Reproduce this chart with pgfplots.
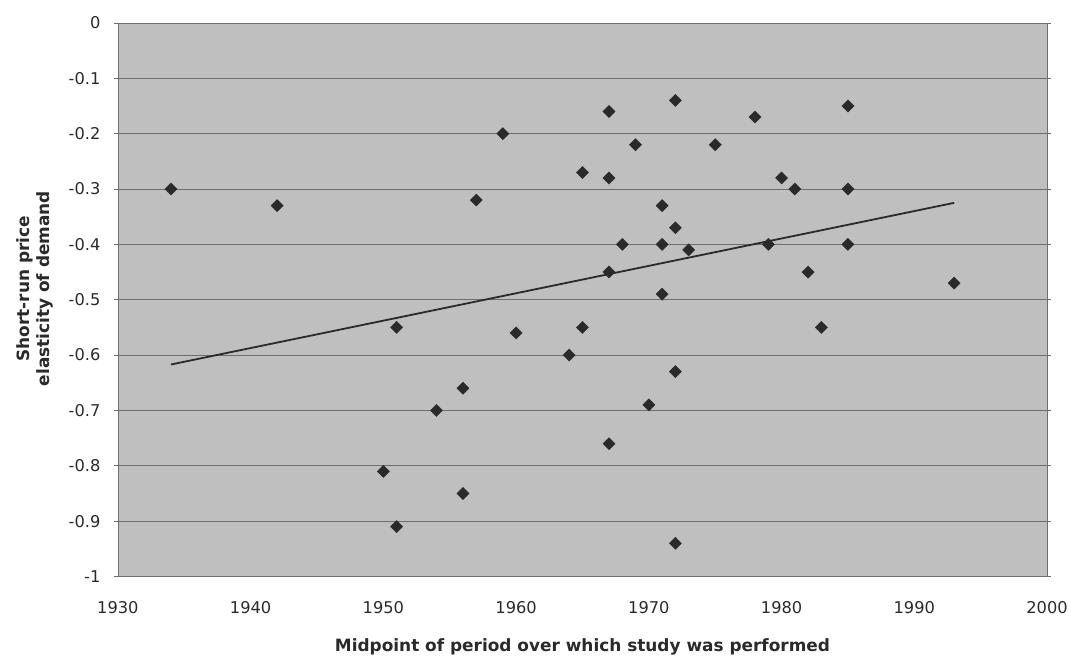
\documentclass[border=0pt]{standalone}
\usepackage{fontspec}
\setmainfont{DejaVu Sans}
\usepackage{pgfplots}
\pgfplotsset{compat=1.18}

\definecolor{plotbg}{HTML}{BFBFBF}
\definecolor{gridc}{HTML}{6E6E6E}
\definecolor{inkc}{HTML}{2A2A2A}

\begin{document}
\begin{tikzpicture}
\begin{axis}[
    scale only axis,
    width=930bp, height=554bp,
    xmin=1930, xmax=2000,
    ymin=-1, ymax=0,
    xtick={1930,1940,...,2000},
    ytick={-1,-0.9,...,0},
    yticklabels={-1,-0.9,-0.8,-0.7,-0.6,-0.5,-0.4,-0.3,-0.2,-0.1,0},
    /pgf/number format/assume math mode=true,
    xticklabel style={/pgf/number format/1000 sep={}, yshift=-17bp},
    yticklabel style={xshift=-10bp},
    x tick style={draw=none},
    y tick style={draw=gridc, line width=0.6bp},
    tick align=outside,
    major tick length=4bp,
    ymajorgrids=true,
    grid style={draw=gridc, line width=0.8bp},
    axis line style={draw=gridc, line width=0.6bp},
    axis background/.style={fill=plotbg},
    tick label style={font=\fontsize{16.3}{19}\selectfont, text=inkc},
    label style={font=\fontsize{17}{20}\selectfont\bfseries, text=inkc},
    xlabel={Midpoint of period over which study was performed},
    xlabel style={at={(axis description cs:0.5,-0.128)}, anchor=center},
    ylabel={Short-run price\\elasticity of demand},
    ylabel style={at={(axis description cs:-0.089,0.52)}, anchor=center, align=center},
]
\addplot[only marks, mark=square*, mark size=4.3bp,
    mark options={rotate=45, fill=inkc, draw=inkc}]
coordinates {
(1934,-0.30) (1942,-0.33) (1950,-0.81) (1951,-0.55) (1951,-0.91)
(1954,-0.70) (1956,-0.66) (1956,-0.85) (1957,-0.32) (1959,-0.20)
(1960,-0.56) (1964,-0.60) (1965,-0.27) (1965,-0.55) (1967,-0.16)
(1967,-0.28) (1967,-0.45) (1967,-0.76) (1968,-0.40) (1969,-0.22)
(1970,-0.69) (1971,-0.33) (1971,-0.40) (1971,-0.49) (1972,-0.14)
(1972,-0.37) (1972,-0.63) (1972,-0.94) (1973,-0.41) (1975,-0.22)
(1978,-0.17) (1979,-0.40) (1980,-0.28) (1981,-0.30) (1982,-0.45)
(1983,-0.55) (1985,-0.15) (1985,-0.30) (1985,-0.40) (1993,-0.47)
};
\addplot[no marks, draw=inkc, line width=1.8bp]
coordinates {(1934,-0.617) (1993,-0.325)};
\end{axis}
\path (current axis.south west) ++(-118bp,-81bp) rectangle ++(1071bp,658bp);
\end{tikzpicture}
\end{document}
